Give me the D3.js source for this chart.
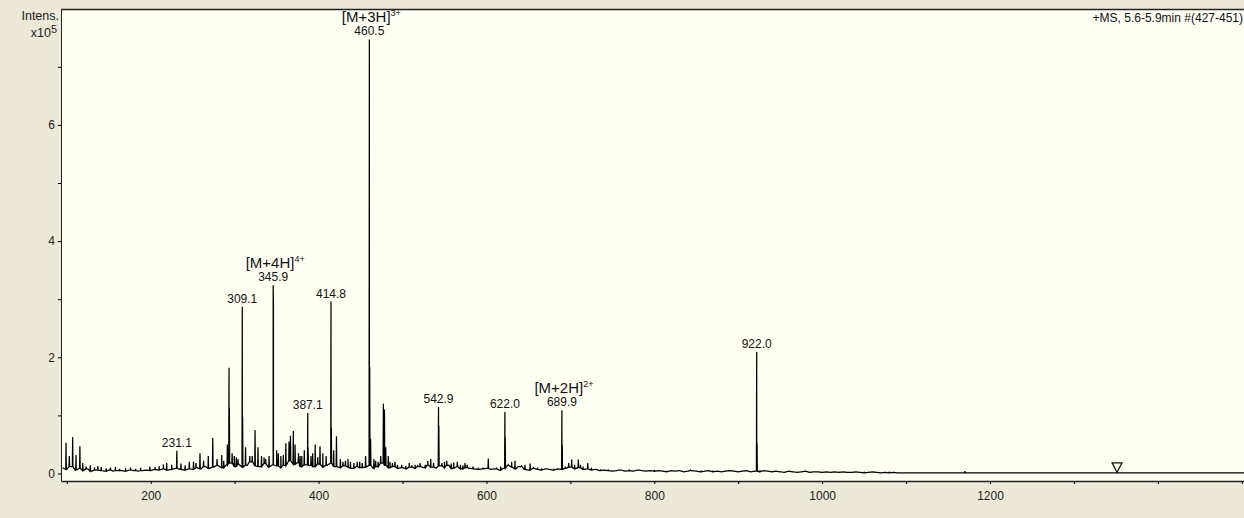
<!DOCTYPE html>
<html>
<head>
<meta charset="utf-8">
<script src="https://cdn.jsdelivr.net/npm/d3@7"></script>
<style>
body { margin: 0; background: #ECE9D8; }
svg { display: block; font-family: "Liberation Sans", Arial, sans-serif; }
</style>
</head>
<body>
<div id="chart"></div>
<script>
// baseline (grass) level, one value every 5 m/z starting at 95, in x10^5
const noiseStart = 95;
const noiseStep = 5;
const noiseLevels = [
  0.10,0.07,0.12,0.06,0.09,0.05,0.08,0.04,0.06,0.05,0.04,0.06,0.04,0.05,0.05,0.04,0.06,0.05,0.04,0.05,
  0.06,0.05,0.07,0.06,0.08,0.06,0.07,0.09,0.07,0.06,0.08,0.07,0.10,0.08,0.12,0.09,0.11,0.14,0.10,0.15,
  0.18,0.12,0.16,0.11,0.14,0.20,0.13,0.12,0.17,0.11,0.15,0.13,0.10,0.14,0.22,0.16,0.19,0.12,0.15,0.14,
  0.12,0.16,0.11,0.14,0.18,0.12,0.10,0.13,0.11,0.09,0.12,0.10,0.11,0.14,0.09,0.12,0.18,0.14,0.10,0.12,
  0.09,0.10,0.08,0.11,0.09,0.12,0.10,0.15,0.11,0.09,0.13,0.10,0.14,0.09,0.12,0.08,0.10,0.09,0.08,0.07,
  0.08,0.09,0.07,0.08,0.06,0.09,0.14,0.11,0.08,0.12,0.07,0.06,0.09,0.07,0.06,0.08,0.07,0.06,0.08,0.07,
  0.09,0.11,0.08,0.10,0.07,0.08,0.06,0.07,0.05,0.06,0.05,0.04,0.05,0.06,0.04,0.05,0.04,0.06,0.05,0.04,
  0.05,0.04,0.05,0.04,0.03,0.05,0.04,0.05,0.03,0.04,0.05,0.04,0.03,0.04,0.05,0.03,0.04,0.03,0.04,0.05,
  0.04,0.03,0.04,0.05,0.03,0.04,0.03,0.05,0.04,0.03,0.04,0.03,0.02,0.04,0.03,0.02,0.03,0.04,0.02,0.03,
  0.03,0.02,0.03,0.02,0.03,0.02,0.03,0.02,0.02,0.03,0.02,0.01,0.02,0.03,0.02,0.01,0.02,0.01,0.02,0.01
];
// flat tail after the grass ends
const tailLevels = [[1097, 0.012], [1505, 0.012]];

// peaks [m/z, intensity x10^5]
const peaks = [
  [99.1,0.53],[103,0.30],[107,0.63],[111,0.32],[115.6,0.47],[119,0.18],[123,0.12],[128,0.14],[133,0.10],
  [137,0.13],[141,0.11],[147,0.09],[152,0.10],[158,0.11],[163,0.08],[170,0.09],[176,0.10],[182,0.08],
  [188,0.10],[199,0.12],[205,0.11],[210,0.13],[215,0.16],[219,0.18],[225,0.15],[231.1,0.39],[236,0.17],
  [241,0.14],[246,0.20],[251,0.20],[254,0.18],[258.7,0.35],[263,0.22],[268.6,0.30],[273.9,0.61],
  [279,0.25],[284.6,0.32],[287,0.22],[291.3,0.50],[293.3,1.82],[293.7,1.13],[297,0.35],[299.6,0.30],
  [302,0.28],[304,0.25],[309.1,2.87],[309.5,0.98],[313,0.45],[318,0.30],[321,0.30],[324.3,0.75],
  [327.8,0.45],[332,0.30],[335,0.28],[337,0.25],[341,0.30],[345.9,3.24],[346.2,2.87],[350,0.40],
  [352,0.35],[355,0.30],[358,0.32],[361,0.52],[364.8,0.55],[366.5,0.65],[369.9,0.73],[372,0.50],
  [376,0.35],[378,0.30],[380,0.30],[383,0.40],[387.1,1.04],[387.5,0.45],[391,0.30],[393,0.35],
  [396,0.50],[399,0.28],[401.7,0.47],[405,0.35],[409,0.30],[414.8,2.96],[415.2,0.79],[418,0.40],
  [421.3,0.64],[426,0.25],[429,0.20],[432,0.22],[435,0.25],[438,0.20],[442,0.18],[446,0.20],
  [449,0.20],[452,0.18],[456,0.30],[460.5,7.47],[460.9,1.84],[462,0.60],[466,0.25],[468,0.22],
  [471,0.20],[474,0.30],[477.2,1.20],[478.5,1.10],[480,0.45],[483,0.30],[485,0.20],[488,0.18],
  [491,0.20],[494,0.15],[499,0.15],[504,0.13],[508,0.18],[511,0.14],[515,0.15],[518,0.15],[521,0.18],
  [527,0.15],[530,0.22],[533.6,0.25],[537,0.18],[542.9,1.15],[543.3,0.82],[547,0.18],[550,0.20],
  [552.7,0.22],[555,0.15],[558,0.17],[561,0.19],[565.3,0.20],[569,0.15],[572,0.14],[574.5,0.18],
  [577,0.15],[580,0.10],[584,0.12],[590,0.10],[596,0.10],[602.2,0.26],[612,0.10],[617,0.12],
  [622.0,1.06],[622.4,0.62],[626,0.15],[630,0.20],[634,0.22],[638,0.12],[642,0.13],[646,0.15],
  [652,0.17],[656,0.10],[661,0.10],[666,0.09],[672,0.08],[680,0.08],[689.9,1.09],[690.3,0.50],
  [694,0.12],[698,0.18],[701.6,0.24],[705,0.15],[709.5,0.24],[712,0.15],[715,0.12],[720.7,0.18],
  [725,0.10],[730,0.08],[736,0.07],[745,0.07],[758,0.06],[770,0.07],[782,0.06],[800,0.06],[815,0.05],
  [830,0.05],[843,0.06],[856,0.05],[870,0.05],[885,0.05],[905,0.04],[922.0,2.09],[922.4,0.53],
  [926,0.06],[935,0.04],[950,0.04],[965,0.04],[990,0.03],[1020,0.03],[1050,0.03],[1080,0.03],[1170,0.04]
];

const peakLabels = [231.1, 309.1, 345.9, 387.1, 414.8, 460.5, 542.9, 622.0, 689.9, 922.0];
const ionLabels = [[345.9, "[M+4H]", "4+"], [460.5, "[M+3H]", "3+"], [689.9, "[M+2H]", "2+"]];
const precursorMarks = [1351.3];

const xTicks = [100,200,300,400,500,600,700,800,900,1000,1100,1200,1300,1400,1500];
const xTickLabels = [200,400,600,800,1000,1200];
const yTicks = [0,1,2,3,4,5,6,7];
const yTickLabels = [0,2,4,6];

const width = 1244, height = 518;
const plotLeft = 61, plotTop = 9, plotRight = 1244, plotBottom = 481;

const svg = d3.select("#chart").append("svg")
  .attr("width", width)
  .attr("height", height);

svg.append("rect").attr("width", width).attr("height", height).attr("fill", "#ECE9D8");
svg.append("rect")
  .attr("x", plotLeft).attr("y", plotTop)
  .attr("width", plotRight - plotLeft).attr("height", plotBottom - plotTop)
  .attr("fill", "#FFFFF4");

const x = d3.scaleLinear().domain([93.1, 1502.6]).range([plotLeft, plotRight]);
const y = d3.scaleLinear().domain([0, 8]).range([473.5, 8.7]);

// spectrum profile
const pts = noiseLevels.map((v, i) => [noiseStart + i * noiseStep, v]);
peaks.forEach(([m, h]) => {
  const i = Math.max(0, Math.min(noiseLevels.length - 1, Math.round((m - noiseStart) / noiseStep)));
  const b = m > 1097 ? tailLevels[0][1] : noiseLevels[i];
  pts.push([m - 0.35, b], [m, h], [m + 0.35, b]);
});
tailLevels.forEach(p => pts.push(p));
pts.sort((a, b) => a[0] - b[0]);

svg.append("clipPath").attr("id", "clip")
  .append("rect").attr("x", plotLeft).attr("y", plotTop)
  .attr("width", plotRight - plotLeft).attr("height", plotBottom - plotTop);

svg.append("path")
  .datum(pts)
  .attr("clip-path", "url(#clip)")
  .attr("fill", "none")
  .attr("stroke", "#000")
  .attr("stroke-width", 1.25)
  .attr("d", d3.line().x(d => x(d[0])).y(d => y(d[1])));

// axes
const xAxis = svg.append("g")
  .attr("transform", `translate(0,${plotBottom})`)
  .call(d3.axisBottom(x).tickValues(xTicks).tickSize(3).tickSizeOuter(0).tickPadding(7)
    .tickFormat(d => xTickLabels.includes(d) ? d : ""));
xAxis.select(".domain").attr("stroke", "#222").attr("stroke-width", 1.5);
xAxis.selectAll("text").attr("font-size", 12).attr("font-family", "Liberation Sans, Arial, sans-serif").attr("fill", "#222");

const yAxis = svg.append("g")
  .attr("transform", `translate(${plotLeft},0)`)
  .call(d3.axisLeft(y).tickValues(yTicks).tickSize(3).tickSizeOuter(0)
    .tickFormat(d => yTickLabels.includes(d) ? d : ""));
yAxis.select(".domain").remove();
yAxis.selectAll("text").attr("font-size", 12).attr("font-family", "Liberation Sans, Arial, sans-serif").attr("fill", "#222");

// borders
svg.append("line").attr("x1", plotLeft).attr("x2", plotRight).attr("y1", plotTop + 0.5).attr("y2", plotTop + 0.5)
  .attr("stroke", "#222").attr("stroke-width", 1.5);
svg.append("line").attr("x1", plotLeft + 0.5).attr("x2", plotLeft + 0.5).attr("y1", plotTop).attr("y2", plotBottom)
  .attr("stroke", "#222").attr("stroke-width", 1);

// peak labels
const peakHeight = m => peaks.find(p => p[0] === m)[1];
svg.append("g").selectAll("text")
  .data(peakLabels)
  .join("text")
  .attr("x", d => x(d))
  .attr("y", d => y(peakHeight(d)) - 4)
  .attr("text-anchor", "middle")
  .attr("font-size", 12)
  .attr("fill", "#111")
  .text(d => d.toFixed(1));

const ion = svg.append("g").selectAll("text")
  .data(ionLabels)
  .join("text")
  .attr("x", d => x(d[0]) + 2)
  .attr("y", d => y(peakHeight(d[0])) - 17.5)
  .attr("text-anchor", "middle")
  .attr("font-size", 15)
  .attr("fill", "#111");
ion.append("tspan").text(d => d[1]);
ion.append("tspan").attr("dy", -6).attr("font-size", 9).text(d => d[2]);

// precursor marker
svg.append("g").selectAll("path")
  .data(precursorMarks)
  .join("path")
  .attr("d", d => {
    const cx = x(d), by = y(0.02);
    return `M${cx - 5},${by - 9.5}L${cx + 5},${by - 9.5}L${cx},${by}Z`;
  })
  .attr("fill", "none")
  .attr("stroke", "#111")
  .attr("stroke-width", 1.2);

// header texts
svg.append("text").attr("x", 59).attr("y", 19.5).attr("text-anchor", "end")
  .attr("font-size", 12.5).attr("fill", "#222").text("Intens.");
const ymul = svg.append("text").attr("x", 57).attr("y", 37).attr("text-anchor", "end")
  .attr("font-size", 12.5).attr("fill", "#222");
ymul.append("tspan").text("x10");
ymul.append("tspan").attr("dy", -4).attr("font-size", 11).text("5");

svg.append("text").attr("x", 1243).attr("y", 22).attr("text-anchor", "end")
  .attr("font-size", 12).attr("fill", "#111").text("+MS, 5.6-5.9min #(427-451)");
</script>
</body>
</html>
